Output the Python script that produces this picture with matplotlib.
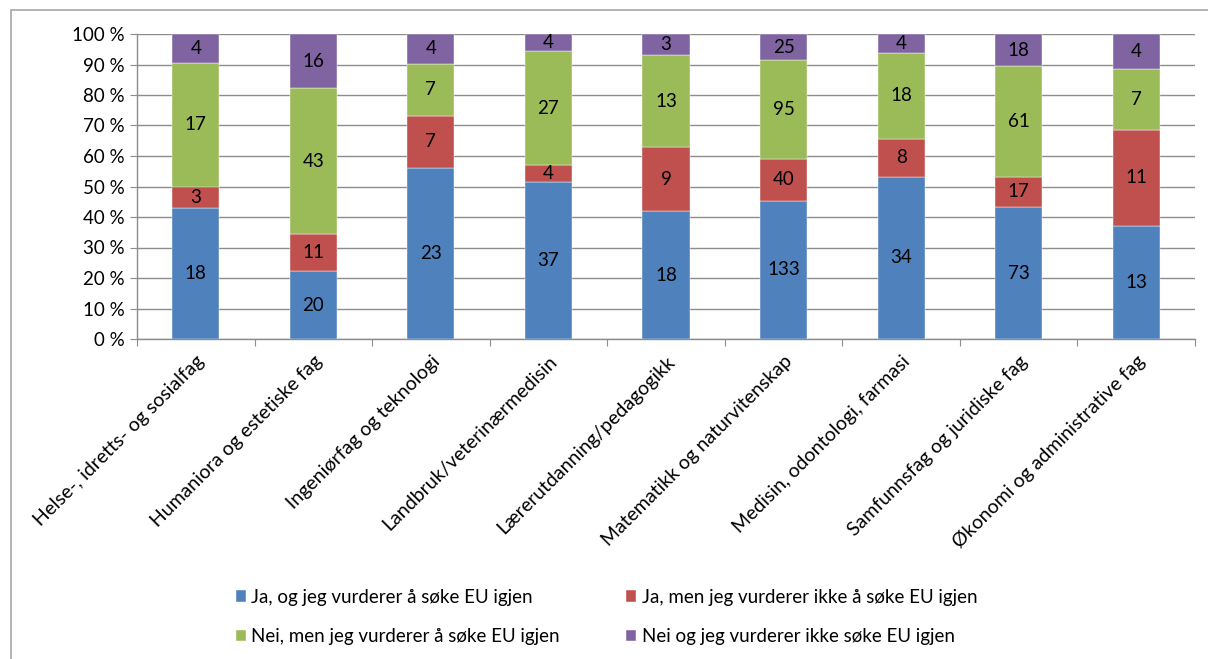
import numpy as np
import matplotlib.pyplot as plt
from matplotlib.patches import Rectangle

plt.rcParams['font.family'] = ['Lato', 'DejaVu Sans']

categories = ['Helse-, idretts- og sosialfag', 'Humaniora og estetiske fag',
              'Ingeniørfag og teknologi', 'Landbruk/veterinærmedisin',
              'Lærerutdanning/pedagogikk', 'Matematikk og naturvitenskap',
              'Medisin, odontologi, farmasi', 'Samfunnsfag og juridiske fag',
              'Økonomi og administrative fag']
ja_igjen = [18, 20, 23, 37, 18, 133, 34, 73, 13]
ja_ikke = [3, 11, 7, 4, 9, 40, 8, 17, 11]
nei_igjen = [17, 43, 7, 27, 13, 95, 18, 61, 7]
nei_ikke = [4, 16, 4, 4, 3, 25, 4, 18, 4]
series_names = ['Ja, og jeg vurderer å søke EU igjen',
                'Ja, men jeg vurderer ikke å søke EU igjen',
                'Nei, men jeg vurderer å søke EU igjen',
                'Nei og jeg vurderer ikke søke EU igjen']
colors = ['#4F81BD', '#C0504D', '#9BBB59', '#8064A2']

data = np.array([ja_igjen, ja_ikke, nei_igjen, nei_ikke], dtype=float)
totals = data.sum(axis=0)
pct = data / totals * 100

fs = 13.5
fig = plt.figure(figsize=(12.08, 6.59), dpi=100)
ax = fig.add_axes([137 / 1208, 1 - 339 / 659, (1195 - 137) / 1208, (339 - 34) / 659])

x = np.arange(len(categories))
bottom = np.zeros(len(categories))
handles = []
for i in range(4):
    bars = ax.bar(x, pct[i], 0.4, bottom=bottom, color=colors[i], zorder=3,
                  edgecolor='white', linewidth=0.3)
    handles.append(bars)
    for j in range(len(categories)):
        ax.text(x[j], bottom[j] + pct[i][j] / 2, '%d' % data[i][j],
                ha='center', va='center', fontsize=fs, zorder=4)
    bottom += pct[i]

ax.set_xlim(-0.5, len(categories) - 0.5)
ax.set_ylim(0, 100)
ax.set_yticks(np.arange(0, 101, 10))
ax.set_yticklabels(['%d %%' % v for v in range(0, 101, 10)], fontsize=fs)
ax.yaxis.grid(True, color='#8c8c8c', linewidth=1, zorder=0)
ax.set_xticks(np.arange(-0.5, len(categories), 1))
ax.set_xticklabels([])
ax.set_xticks(x, minor=True)
ax.set_xticklabels(categories, minor=True, rotation=45, ha='right',
                   rotation_mode='anchor', fontsize=14)
ax.tick_params(axis='x', which='minor', length=0, pad=10)
ax.tick_params(axis='both', which='major', length=5, color='#8c8c8c', direction='out')
ax.tick_params(axis='y', pad=4)
for s in ['top', 'right']:
    ax.spines[s].set_visible(False)
for s in ['left', 'bottom']:
    ax.spines[s].set_color('#8c8c8c')
    ax.spines[s].set_linewidth(1)

# legend fills column by column, so reorder to get row-wise order
order = [0, 2, 1, 3]
leg = fig.legend([handles[k][0] for k in order], [series_names[k] for k in order],
                 loc='center', bbox_to_anchor=(0.502, 1 - 617 / 659), ncol=2,
                 frameon=False, fontsize=fs, handlelength=0.55, handleheight=0.55,
                 handletextpad=0.3, columnspacing=3.5, labelspacing=1.2)

fig.patches.append(Rectangle((11 / 1208, -0.01), 1.02, 1 - 10 / 659 + 0.01,
                             transform=fig.transFigure, fill=False,
                             edgecolor='#a6a6a6', linewidth=1.2))

fig.savefig('out.png', dpi=100)
